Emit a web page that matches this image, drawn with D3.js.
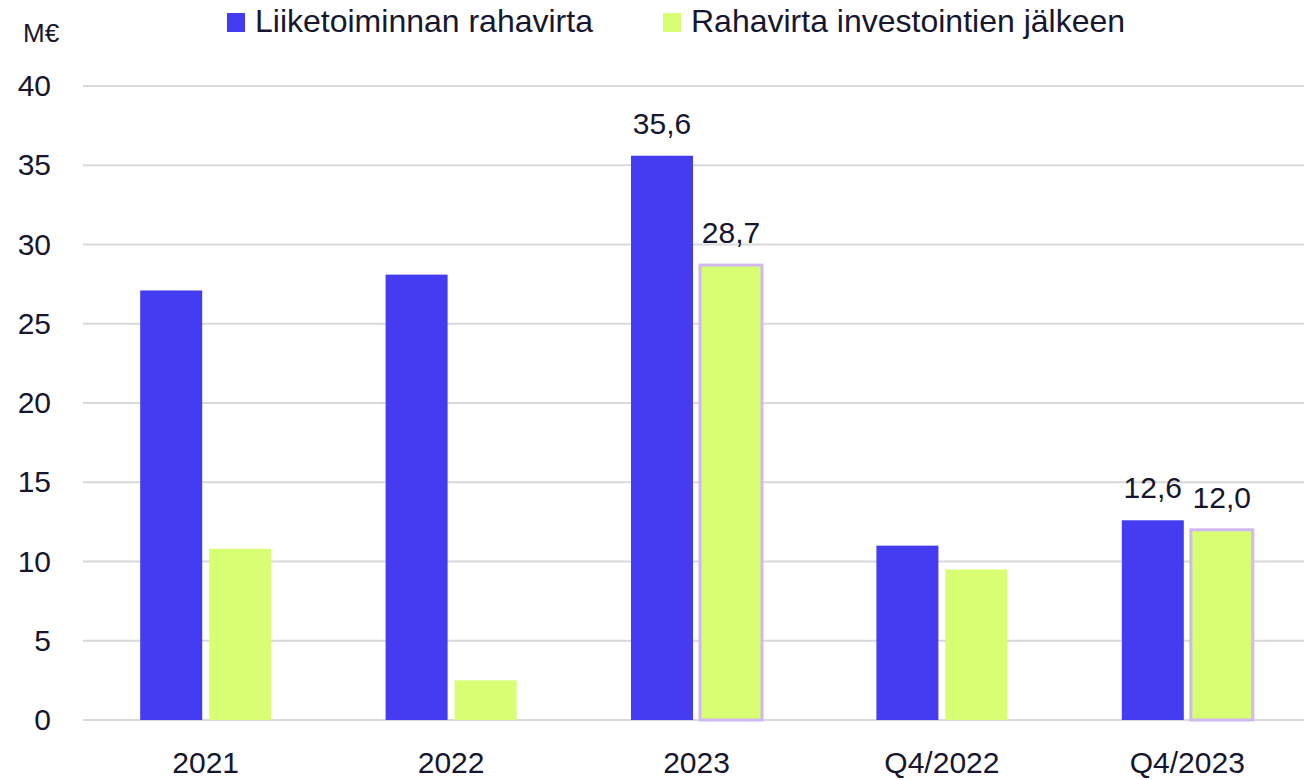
<!DOCTYPE html>
<html>
<head>
<meta charset="utf-8">
<script src="https://cdn.jsdelivr.net/npm/d3@7"></script>
<style>
  body { margin: 0; background: #fff; }
  text { font-family: "Liberation Sans", Arial, sans-serif; fill: #16162e; }
</style>
</head>
<body>
<div id="chart"></div>
<script>
var categories = ["2021", "2022", "2023", "Q4/2022", "Q4/2023"];
var series = ["Liiketoiminnan rahavirta", "Rahavirta investointien jälkeen"];
var operating = [27.1, 28.1, 35.6, 11.0, 12.6];
var afterInvest = [10.8, 2.5, 28.7, 9.5, 12.0];
var labelsOperating = [null, null, "35,6", null, "12,6"];
var labelsAfter = [null, null, "28,7", null, "12,0"];
var yTicks = [0, 5, 10, 15, 20, 25, 30, 35, 40];

var colors = ["#433cf0", "#d8ff73"];
var width = 1304, height = 780;

var svg = d3.select("#chart").append("svg")
    .attr("width", width)
    .attr("height", height);

var x = d3.scaleBand()
    .domain(categories)
    .range([83, 1310])
    .paddingInner(0)
    .paddingOuter(0);

var y = d3.scaleLinear()
    .domain([0, 40])
    .range([720, 86]);

var barW = 62, gap = 7;

// gridlines
svg.append("g").selectAll("line")
    .data(yTicks)
    .enter().append("line")
    .attr("x1", 83).attr("x2", width)
    .attr("y1", function(d){ return y(d); })
    .attr("y2", function(d){ return y(d); })
    .attr("stroke", "#d9d9d9")
    .attr("stroke-width", 2);

// y tick labels
svg.append("g").selectAll("text")
    .data(yTicks)
    .enter().append("text")
    .attr("x", 51)
    .attr("y", function(d){ return y(d) + 10; })
    .attr("text-anchor", "end")
    .attr("font-size", 30)
    .text(function(d){ return d; });

svg.append("text")
    .attr("x", 23).attr("y", 42)
    .attr("font-size", 26)
    .text("M€");

var data = categories.map(function(c, i){
    return {cat: c, vals: [operating[i], afterInvest[i]], labels: [labelsOperating[i], labelsAfter[i]]};
});

var groups = svg.append("g").selectAll("g")
    .data(data)
    .enter().append("g");

[0, 1].forEach(function(s){
    groups.append("rect")
        .attr("x", function(d){
            var c = x(d.cat) + x.bandwidth() / 2;
            return s === 0 ? c - gap / 2 - barW : c + gap / 2;
        })
        .attr("y", function(d){ return y(d.vals[s]); })
        .attr("width", barW)
        .attr("height", function(d){ return y(0) - y(d.vals[s]); })
        .attr("fill", colors[s])
        .attr("stroke", function(d){ return (s === 1 && d.labels[s]) ? "#d2b8f0" : "none"; })
        .attr("stroke-width", 3);

    groups.filter(function(d){ return d.labels[s]; })
        .append("text")
        .attr("x", function(d){
            var c = x(d.cat) + x.bandwidth() / 2;
            return s === 0 ? c - gap / 2 - barW / 2 : c + gap / 2 + barW / 2;
        })
        .attr("y", function(d){ return y(d.vals[s]) - 22; })
        .attr("text-anchor", "middle")
        .attr("font-size", 30)
        .text(function(d){ return d.labels[s]; });
});

// x axis labels
svg.append("g").selectAll("text")
    .data(categories)
    .enter().append("text")
    .attr("x", function(d){ return x(d) + x.bandwidth() / 2; })
    .attr("y", 773)
    .attr("text-anchor", "middle")
    .attr("font-size", 30)
    .text(function(d){ return d; });

// legend
var legendX = [227, 663];
var legend = svg.append("g").selectAll("g")
    .data(series)
    .enter().append("g")
    .attr("transform", function(d, i){ return "translate(" + legendX[i] + ",0)"; });
legend.append("rect")
    .attr("x", 0).attr("y", 13)
    .attr("width", 18).attr("height", 19)
    .attr("fill", function(d, i){ return colors[i]; });
legend.append("text")
    .attr("x", 28).attr("y", 32)
    .attr("font-size", 32)
    .text(function(d){ return d; });
</script>
</body>
</html>
